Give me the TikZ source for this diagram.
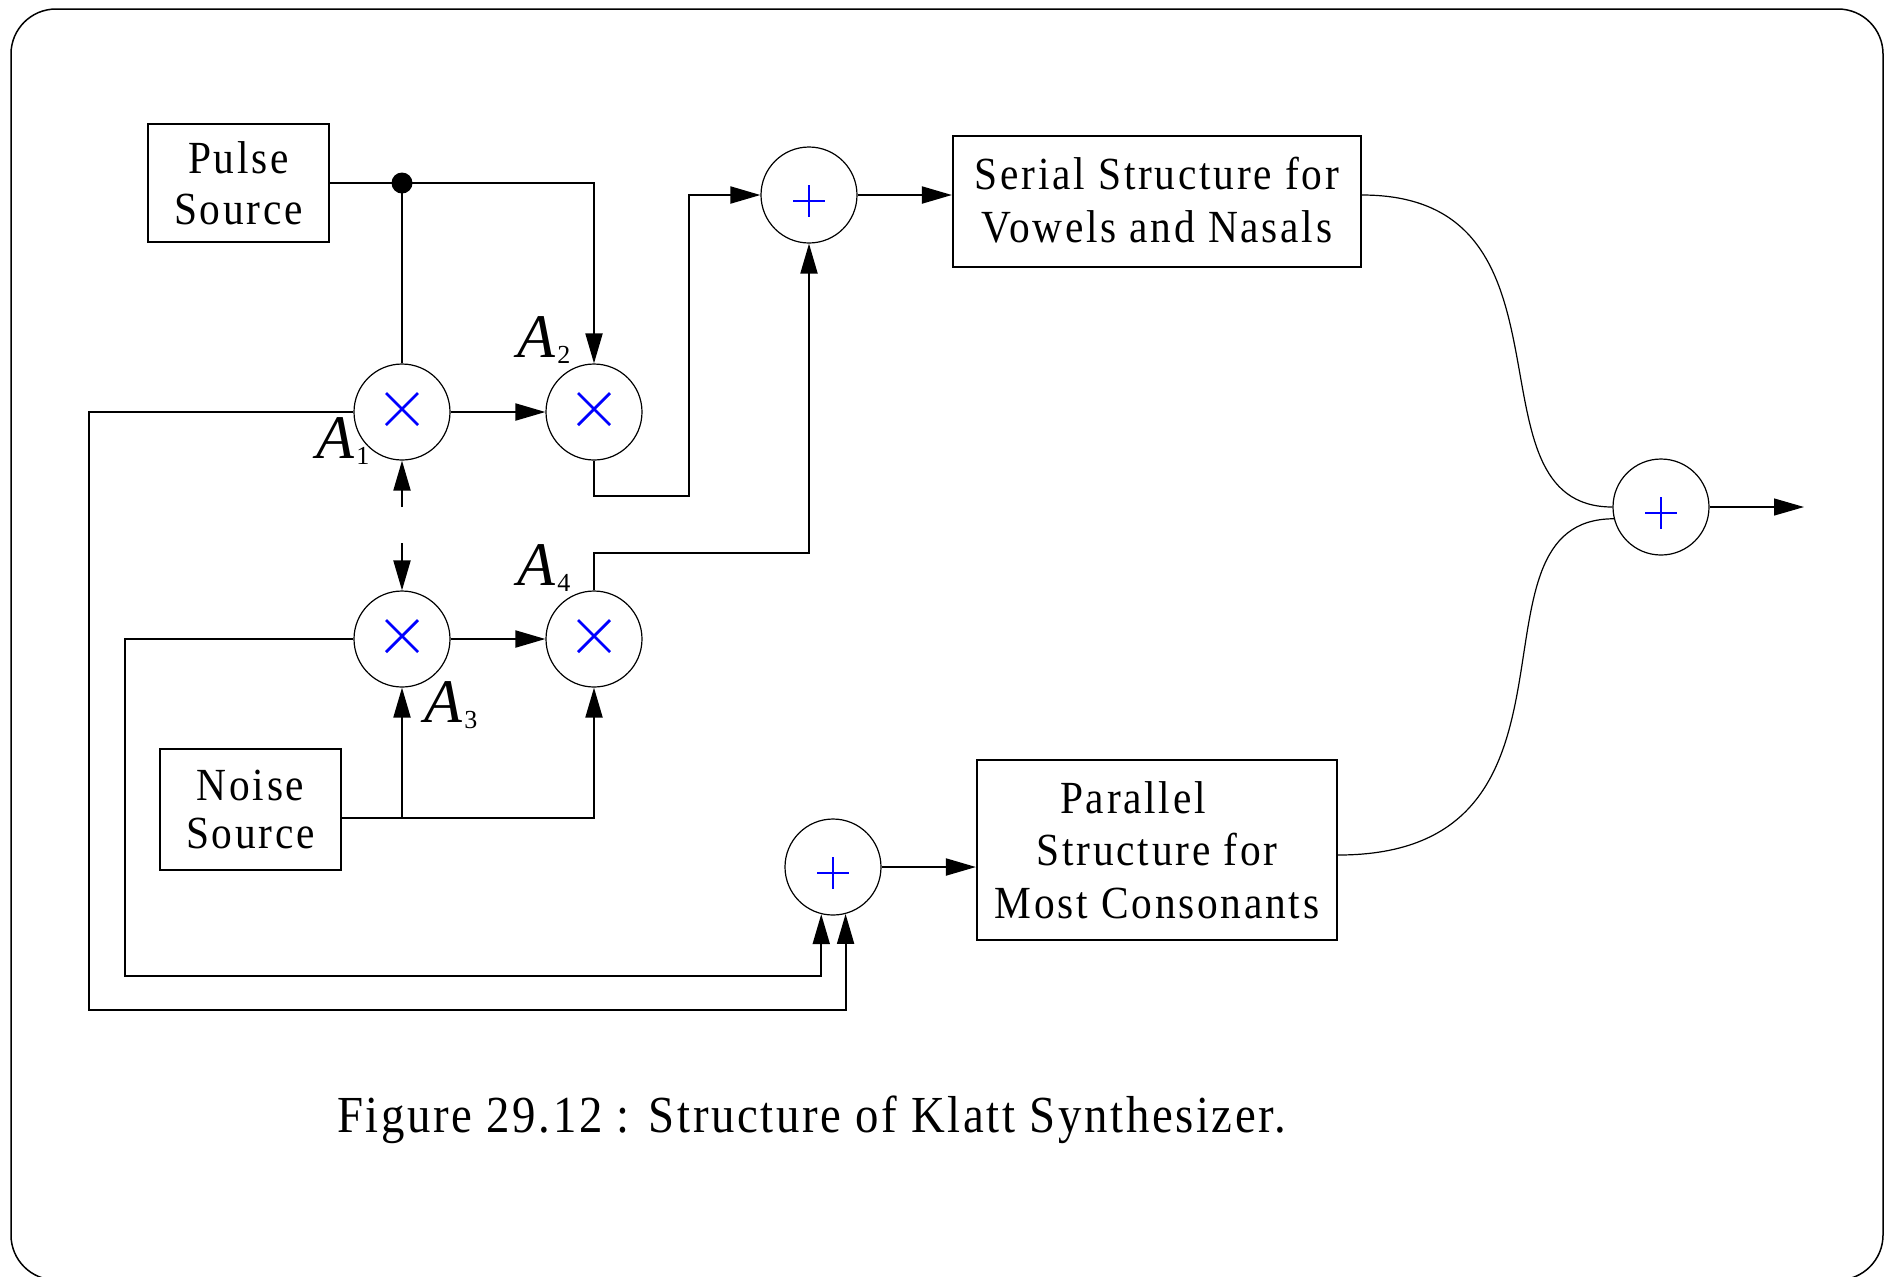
\documentclass[tikz,border=0pt]{standalone}
\usepackage{fontspec}
\setmainfont{Liberation Serif}[FakeStretch=0.9,LetterSpace=6]
\newfontfamily\gainfont{Liberation Serif}
\usetikzlibrary{arrows.meta}
% gain label: italic A with a small lowered index
\newcommand\gainlbl[1]{{\gainfont\fontsize{31}{33}\selectfont\itshape A}\kern1pt\raisebox{-3pt}{\gainfont\fontsize{13}{14}\selectfont #1}}
\begin{document}
\begin{tikzpicture}[x=0.5pt,y=-0.5pt,
  >={Triangle[length=15pt,width=8.5pt]},
  conn/.style={line width=1pt},
  block/.style={draw,line width=1.1pt,inner sep=0pt,align=center,font=\fontsize{23}{24}\selectfont},
  junction/.style={circle,draw,line width=0.6pt,minimum size=48pt,inner sep=0pt},
  sym/.style={blue,line width=1.4pt},
  bendline/.style={line width=0.6pt},
  gain/.style={anchor=base west,inner sep=0pt}
]
\useasboundingbox (0,0) rectangle (1889,1276);
\draw[line width=0.75pt,rounded corners=22.5pt] (11,9) rectangle (1883,1280);

% sources and filter structures
\node[block,minimum width=90.5pt,minimum height=59pt,font=\fontsize{23}{25.5}\selectfont] (pulse) at (238.5,183) {Pulse\\Source};
\node[block,minimum width=90.5pt,minimum height=60.5pt] (noise) at (250.5,809.5) {Noise\\Source};
\node[block,minimum width=204pt,minimum height=65.5pt,font=\fontsize{23}{26.5}\selectfont] (serial) at (1157,201.5) {\raisebox{2pt}{Serial Structure for}\\\raisebox{2pt}{Vowels and Nasals}};
\node[block,minimum width=180pt,minimum height=90pt,font=\fontsize{23}{26.25}\selectfont] (parallel) at (1157,850) {Parallel\hspace*{24pt}\\Structure for\hspace*{13pt}\\Most Consonants};

% multipliers and adders
\node[junction] (m1) at (402,412) {};
\node[junction] (m2) at (594,412) {};
\node[junction] (m3) at (402,639) {};
\node[junction] (m4) at (594,639) {};
\node[junction] (add1) at (809,195) {};
\node[junction] (add2) at (833,867) {};
\node[junction] (fadd) at (1661,507) {};

\foreach \n in {m1,m2,m3,m4} {
  \draw[sym] ([shift={(-16,-19)}]\n.center) -- ([shift={(16,13)}]\n.center)
             ([shift={(-16,13)}]\n.center) -- ([shift={(16,-19)}]\n.center);
}
\foreach \n in {add1,add2,fadd} {
  \draw[sym] ([shift={(-16,6)}]\n.center) -- ([shift={(16,6)}]\n.center)
             ([shift={(0,-10)}]\n.center) -- ([shift={(0,22)}]\n.center);
}

% gain labels
\node[gain] (g1) at (316,458) {\gainlbl{1}};
\node[gain] (g2) at (517,357) {\gainlbl{2}};
\node[gain] (g3) at (424,722) {\gainlbl{3}};
\node[gain] (g4) at (517,585) {\gainlbl{4}};

% pulse branch
\node[circle,fill,inner sep=0pt,minimum size=10.5pt] (dot) at (m1 |- pulse.east) {};
\draw[conn,->] (pulse.east) -| (m2.north);
\draw[conn] (dot.center) -- (m1.north);
\draw[conn,->] (m1.east) -- (m2.west);
\draw[conn,->] (m3.east) -- (m4.west);

% into the first adder
\coordinate (b1) at (689,496);
\draw[conn,->] (m2.south) |- (b1) |- (add1.west);
\coordinate (b2) at (809,553);
\draw[conn,->] (m4.north) |- (b2) -- (add1.south);
\draw[conn,->] (add1.east) -- (serial.west |- add1.east);

% noise branch
\coordinate (nz) at ([yshift=-4.25pt]noise.east);
\draw[conn,->] (nz) -| (m4.south);
\draw[conn,->] (nz -| m3.south) -- (m3.south);

% control inputs between the left multipliers
\coordinate (u1) at (402,507);
\coordinate (u2) at (402,543);
\draw[conn,->] (u1) -- (m1.south);
\draw[conn,->] (u2) -- (m3.north);

% feed loops to the second adder
\coordinate (lo1) at (89,1010);
\coordinate (lo2) at (125,976);
\draw[conn,->] (m1.west) -| (lo1) -| (add2.-75.5);
\draw[conn,->] (m3.west) -| (lo2) -| (add2.-104.5);
\draw[conn,->] (add2.east) -- (parallel.west |- add2.east);

% outputs merged
\draw[bendline] (serial.east |- add1.east) .. controls +(229,0) and +(-153,0) .. (fadd.west);
\draw[bendline] ([yshift=-2.5pt]parallel.east) .. controls +(273,0) and +(-160,0) .. (fadd.194);
\coordinate (out) at (1804,507);
\draw[bendline,->] (fadd.east) -- (out);

% caption
\node[anchor=base west,inner sep=0pt,font=\fontsize{26}{30}\selectfont\addfontfeatures{LetterSpace=5}] (caption) at (337,1132) {Figure 29.12 : Structure of Klatt Synthesizer.};
\end{tikzpicture}
\end{document}
